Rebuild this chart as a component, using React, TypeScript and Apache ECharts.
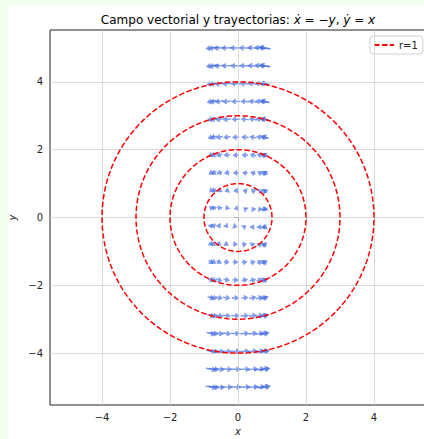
import React, { useEffect, useRef } from "react";
import * as echarts from "echarts";

// Quiver grid (rows in y, columns in x)
const rowY = [5, 4.474, 3.947, 3.421, 2.895, 2.368, 1.842, 1.316, 0.789, 0.263, -0.263, -0.789, -1.316, -1.842, -2.368, -2.895, -3.421, -3.947, -4.474, -5];
const colX = [0.8, 0.76, 0.64, 0.44, 0.2, -0.07, -0.33, -0.55, -0.71, -0.79, -0.79, -0.71, -0.55, -0.33, -0.07, 0.2, 0.44, 0.64, 0.76, 0.8];
// Trajectory radii (dashed circles)
const radii = [1, 2, 3, 4];
const xTicks = [-4, -2, 0, 2, 4];
const yTicks = [-4, -2, 0, 2, 4];
const legendLabel = "r=1";
const axisMin = -5.53;
const axisMax = 5.53;

const fmt = (v: number) => (v < 0 ? "\u2212" + -v : String(v));

export default function App() {
  const ref = useRef<HTMLDivElement>(null);
  useEffect(() => {
    if (!ref.current) return;
    const chart = echarts.init(ref.current, undefined, { renderer: "svg" });

    const quiverData: number[][] = [];
    rowY.forEach((y) => colX.forEach((x) => quiverData.push([x, y, -y, x])));

    const circleSeries = radii.map((r, i) => {
      const pts: number[][] = [];
      for (let k = 0; k <= 240; k++) {
        const t = (2 * Math.PI * k) / 240;
        pts.push([r * Math.cos(t), r * Math.sin(t)]);
      }
      return {
        type: "line",
        name: i === 0 ? legendLabel : "r=" + r,
        data: pts,
        showSymbol: false,
        symbol: "none",
        silent: true,
        z: 5,
        lineStyle: { color: "#ff0000", width: 1.5, type: [5.5, 2.4] },
        itemStyle: { color: "#ff0000" },
      };
    });

    chart.setOption({
      animation: false,
      backgroundColor: "#ffffff",
      textStyle: { fontFamily: "DejaVu Sans" },
      grid: {
        left: 42,
        top: 25,
        width: 376,
        height: 375,
        outerBoundsMode: "none",
        containLabel: false,
        show: true,
        borderColor: "#222",
        borderWidth: 1,
        backgroundColor: "transparent",
      },
      legend: {
        data: [legendLabel],
        left: 362,
        top: 31,
        itemWidth: 20,
        itemHeight: 10,
        padding: [4, 5, 4, 3],
        backgroundColor: "#fff",
        borderColor: "#d0d0d0",
        borderWidth: 1,
        borderRadius: 3,
        itemStyle: { opacity: 0 },
        textStyle: { fontSize: 10, color: "#222", fontFamily: "DejaVu Sans" },
      },
      xAxis: {
        type: "value",
        min: axisMin,
        max: axisMax,
        name: "x",
        nameLocation: "middle",
        nameGap: 19,
        nameTextStyle: { fontStyle: "italic", fontSize: 10, color: "#222", fontFamily: "DejaVu Sans" },
        axisLine: { show: false },
        splitLine: { show: false },
        axisTick: { show: true, customValues: xTicks, length: 3.5, lineStyle: { color: "#222" } },
        axisLabel: { customValues: xTicks, formatter: fmt, fontSize: 10, color: "#222", margin: 7 },
      },
      yAxis: {
        type: "value",
        min: axisMin,
        max: axisMax,
        name: "y",
        nameLocation: "middle",
        nameGap: 27,
        nameTextStyle: { fontStyle: "italic", fontSize: 10, color: "#222", fontFamily: "DejaVu Sans" },
        axisLine: { show: false },
        splitLine: { show: false },
        axisTick: { show: true, customValues: yTicks, length: 3.5, lineStyle: { color: "#222" } },
        axisLabel: { customValues: yTicks, formatter: fmt, fontSize: 10, color: "#222", margin: 7 },
      },
      graphic: [
        {
          type: "text",
          x: 230,
          y: 15,
          style: {
            text: "{n|Campo vectorial y trayectorias: }{i|\u1E8B}{n| = \u2212}{i|y}{n|, }{i|\u1E8F}{n| = }{i|x}",
            align: "center",
            verticalAlign: "middle",
            rich: {
              n: { fontSize: 12, fontFamily: "DejaVu Sans", fill: "#000" },
              i: { fontSize: 12, fontFamily: "DejaVu Sans", fontStyle: "italic", fill: "#000" },
            },
          },
        },
      ],
      series: [
        {
          type: "line",
          name: "grid",
          data: [],
          silent: true,
          z: 0,
          markLine: {
            silent: true,
            symbol: "none",
            label: { show: false },
            lineStyle: { color: "#d0d0d0", width: 0.8, type: "solid" },
            data: [
              ...xTicks.map((v) => ({ xAxis: v })),
              ...yTicks.map((v) => ({ yAxis: v })),
            ],
          },
        },
        {
          type: "custom",
          name: "campo",
          data: quiverData,
          z: 2,
          silent: true,
          renderItem: (params: any, api: any) => {
            const x = api.value(0);
            const y = api.value(1);
            const u = api.value(2);
            const v = api.value(3);
            const p = api.coord([x, y]);
            const q = api.coord([x + u, y + v]);
            let dx = q[0] - p[0];
            let dy = q[1] - p[1];
            const n = Math.hypot(dx, dy);
            if (n === 0) return null;
            dx /= n;
            dy /= n;
            const mag = Math.hypot(u, v);
            const L = 3.5 + 1.6 * mag;
            const sw = 0.7;
            const hw = 3.0;
            const hl = 4.5;
            const nx = -dy;
            const ny = dx;
            const tx = p[0] - (dx * L) / 2;
            const ty = p[1] - (dy * L) / 2;
            const hx = p[0] + (dx * L) / 2;
            const hy = p[1] + (dy * L) / 2;
            const bx = hx - dx * hl;
            const by = hy - dy * hl;
            return {
              type: "polygon",
              shape: {
                points: [
                  [tx + nx * sw, ty + ny * sw],
                  [bx + nx * sw, by + ny * sw],
                  [bx + nx * hw, by + ny * hw],
                  [hx, hy],
                  [bx - nx * hw, by - ny * hw],
                  [bx - nx * sw, by - ny * sw],
                  [tx - nx * sw, ty - ny * sw],
                ],
              },
              style: { fill: "rgba(65,105,225,0.42)" },
            };
          },
        },
        ...circleSeries,
      ],
    });
    return () => chart.dispose();
  }, []);

  return (
    <div style={{ position: "fixed", left: 0, top: 0, width: 424, height: 439, background: "#f0fff0" }}>
      <div
        ref={ref}
        style={{ position: "absolute", left: 8, top: 5, width: 416, height: 434, background: "#fff" }}
      />
    </div>
  );
}
